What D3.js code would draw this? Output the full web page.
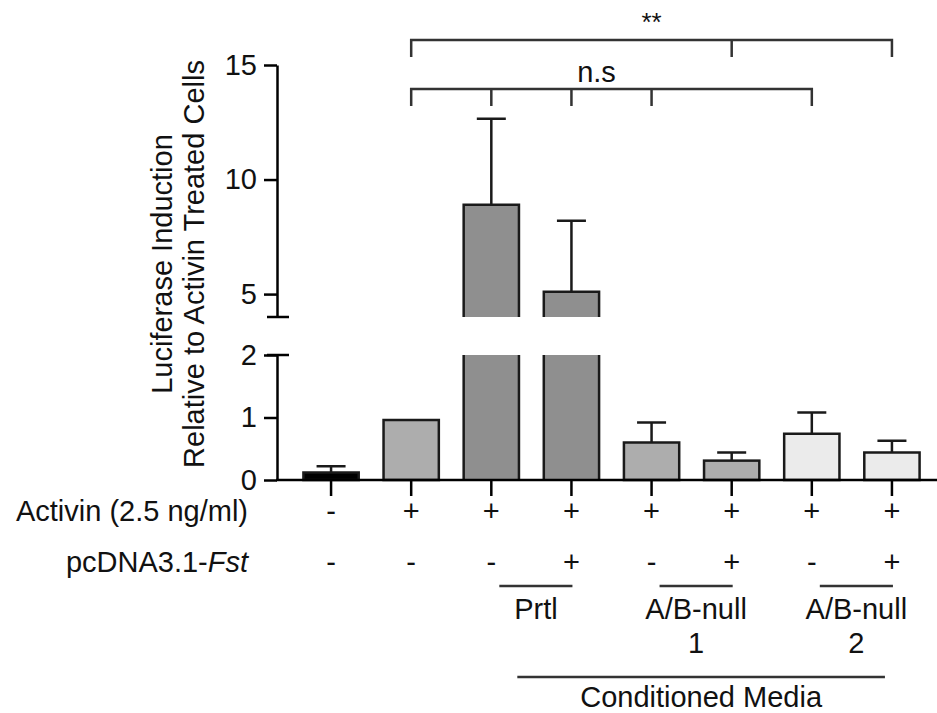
<!DOCTYPE html>
<html>
<head>
<meta charset="utf-8">
<script src="https://cdn.jsdelivr.net/npm/d3@7/dist/d3.min.js"></script>
<style>
  html, body { margin: 0; padding: 0; background: #fff; }
  svg { display: block; }
  text { font-family: "Liberation Sans", Arial, sans-serif; fill: #111; }
</style>
</head>
<body>
<svg id="chart" width="937" height="713"></svg>
<script>
// Luciferase reporter assay: activin response with conditioned media
const conditions = ["ctrl", "act", "prtl", "prtl+fst", "ab1", "ab1+fst", "ab2", "ab2+fst"];
const treatment  = ["Control", "Activin", "Prtl", "Prtl", "A/B-null 1", "A/B-null 1", "A/B-null 2", "A/B-null 2"];
const activinRow = ["-", "+", "+", "+", "+", "+", "+", "+"];
const fstRow     = ["-", "-", "-", "+", "-", "+", "-", "+"];
const means      = [0.12, 0.96, 8.9, 5.1, 0.60, 0.31, 0.74, 0.44];
const sem        = [0.10, 0.00, 3.75, 3.1, 0.32, 0.13, 0.34, 0.19];
const lowerTicks = [0, 1, 2];
const upperTicks = [5, 10, 15];
const mediaGroups = [
  { label: ["Prtl"], from: 2, to: 3 },
  { label: ["A/B-null", "1"], from: 4, to: 5 },
  { label: ["A/B-null", "2"], from: 6, to: 7 }
];
const brackets = [
  { label: "**",  from: 1, to: 7, mids: [5] },
  { label: "n.s", from: 1, to: 6, mids: [2, 3, 4] }
];

const svg = d3.select("#chart");
const FONT = 29;
const INK = "#1a1a1a";
const axisX = 277;

const x = d3.scaleBand().domain(conditions).range([291, 932])
  .paddingInner(0.31).paddingOuter(0.155);
const cx = i => x(conditions[i]) + x.bandwidth() / 2;

// broken y axis: lower segment 0-2, upper segment 4-15
const yLow = d3.scaleLinear().domain([0, 2]).range([480, 355]);
const yUp  = d3.scaleLinear().domain([4, 15]).range([317, 65]);
const LOW_MAX = yLow.domain()[1];

const fill = d3.scaleOrdinal()
  .domain(["Control", "Activin", "Prtl", "A/B-null 1", "A/B-null 2"])
  .range(["#000000", "#adadad", "#8f8f8f", "#adadad", "#ebebeb"]);

const yOf = v => v <= LOW_MAX ? yLow(v) : yUp(v);

// ---- bars ----
const bars = svg.append("g");
means.forEach((m, i) => {
  const x0 = x(conditions[i]), w = x.bandwidth(), x1 = x0 + w;
  const col = fill(treatment[i]);
  if (m <= LOW_MAX) {
    bars.append("rect").attr("x", x0).attr("y", yLow(m))
      .attr("width", w).attr("height", yLow(0) - yLow(m))
      .attr("fill", col).attr("stroke", INK).attr("stroke-width", 2.5);
  } else {
    // lower piece, cut at the top of the lower segment
    const yb = yLow(0), yt = yLow(LOW_MAX);
    bars.append("rect").attr("x", x0).attr("y", yt).attr("width", w).attr("height", yb - yt)
      .attr("fill", col);
    bars.append("path").attr("d", `M${x0},${yt}V${yb}M${x1},${yt}V${yb}`)
      .attr("stroke", INK).attr("stroke-width", 2.5).attr("fill", "none");
    // upper piece, open at the bottom of the upper segment
    const ub = yUp(yUp.domain()[0]), ut = yUp(m);
    bars.append("rect").attr("x", x0).attr("y", ut).attr("width", w).attr("height", ub - ut)
      .attr("fill", col);
    bars.append("path").attr("d", `M${x0},${ub}V${ut}H${x1}V${ub}`)
      .attr("stroke", INK).attr("stroke-width", 2.5).attr("fill", "none");
  }
  // upward error bar
  if (sem[i] > 0) {
    const c = cx(i), yTop = yOf(m + sem[i]);
    bars.append("path").attr("d", `M${c},${yOf(m)}V${yTop}M${c - 14.5},${yTop}H${c + 14.5}`)
      .attr("stroke", INK).attr("stroke-width", 2.5).attr("fill", "none");
  }
});

// ---- y axis ----
function drawY(scale, ticks) {
  const g = svg.append("g").attr("transform", `translate(${axisX},0)`)
    .call(d3.axisLeft(scale).tickValues(ticks).tickFormat(d3.format("d"))
      .tickSize(13).tickSizeOuter(0).tickPadding(7));
  g.select(".domain").attr("stroke", "#000").attr("stroke-width", 2.5);
  g.selectAll(".tick line").attr("stroke", "#000").attr("stroke-width", 2.5);
  g.selectAll(".tick text").attr("font-size", FONT)
    .attr("font-family", '"Liberation Sans", Arial, sans-serif').attr("fill", "#111");
  return g;
}
drawY(yLow, lowerTicks);
drawY(yUp, upperTicks);
// break caps
[yUp(yUp.domain()[0]), yLow(LOW_MAX)].forEach(yy => {
  svg.append("line").attr("x1", axisX - 10).attr("x2", axisX + 12)
    .attr("y1", yy).attr("y2", yy).attr("stroke", "#000").attr("stroke-width", 2.5);
});

// ---- x axis ----
const xa = svg.append("g").attr("transform", `translate(0,${yLow(0)})`)
  .call(d3.axisBottom(x).tickSize(16).tickSizeOuter(0).tickFormat(""));
xa.select(".domain").remove();
xa.selectAll(".tick line").attr("stroke", "#000").attr("stroke-width", 2.5);
svg.append("line").attr("x1", axisX - 1).attr("x2", 937).attr("y1", yLow(0)).attr("y2", yLow(0))
  .attr("stroke", "#000").attr("stroke-width", 2.5);

// ---- y title ----
const yt = svg.append("text").attr("transform", "translate(0,264) rotate(-90)")
  .attr("text-anchor", "middle").attr("font-size", FONT);
yt.append("tspan").attr("x", 0).attr("y", 172).text("Luciferase Induction");
yt.append("tspan").attr("x", 0).attr("y", 204).text("Relative to Activin Treated Cells");

// ---- treatment rows ----
const rowY = [521, 572];
svg.append("text").attr("x", 248).attr("y", rowY[0]).attr("text-anchor", "end")
  .attr("font-size", FONT).text("Activin (2.5 ng/ml)");
const fl = svg.append("text").attr("x", 248).attr("y", rowY[1]).attr("text-anchor", "end")
  .attr("font-size", FONT);
fl.append("tspan").text("pcDNA3.1-");
fl.append("tspan").attr("font-style", "italic").text("Fst");
[activinRow, fstRow].forEach((row, r) => {
  svg.append("g").selectAll("text").data(row).join("text")
    .attr("x", (d, i) => cx(i)).attr("y", rowY[r]).attr("text-anchor", "middle")
    .attr("font-size", FONT).text(d => d);
});

// ---- conditioned media groups ----
mediaGroups.forEach(g => {
  const a = cx(g.from) + 8, b = cx(g.to) + 1, mid = (a + b) / 2;
  svg.append("line").attr("x1", a).attr("x2", b).attr("y1", 586).attr("y2", 586)
    .attr("stroke", "#333").attr("stroke-width", 2.5);
  g.label.forEach((t, k) => {
    svg.append("text").attr("x", mid).attr("y", 619 + k * 34).attr("text-anchor", "middle")
      .attr("font-size", FONT).text(t);
  });
});
const cmA = cx(mediaGroups[0].from) + 26, cmB = cx(mediaGroups[2].to) - 7;
svg.append("line").attr("x1", cmA).attr("x2", cmB).attr("y1", 677).attr("y2", 677)
  .attr("stroke", "#333").attr("stroke-width", 2.5);
svg.append("text").attr("x", (cmA + cmB) / 2).attr("y", 707).attr("text-anchor", "middle")
  .attr("font-size", FONT).text("Conditioned Media");

// ---- significance brackets ----
const bracketY = [40, 89], drop = 17;
brackets.forEach((b, k) => {
  const y0 = bracketY[k];
  let d = `M${cx(b.from)},${y0 + drop}V${y0}H${cx(b.to)}V${y0 + drop}`;
  b.mids.forEach(i => { d += `M${cx(i)},${y0}V${y0 + drop}`; });
  svg.append("path").attr("d", d).attr("fill", "none").attr("stroke", "#333").attr("stroke-width", 2.5);
  const mid = (cx(b.from) + cx(b.to)) / 2;
  svg.append("text").attr("x", k === 0 ? mid : mid - 15).attr("y", k === 0 ? 31 : 82)
    .attr("text-anchor", "middle").attr("font-size", k === 0 ? 26 : FONT).text(b.label);
});
</script>
</body>
</html>
